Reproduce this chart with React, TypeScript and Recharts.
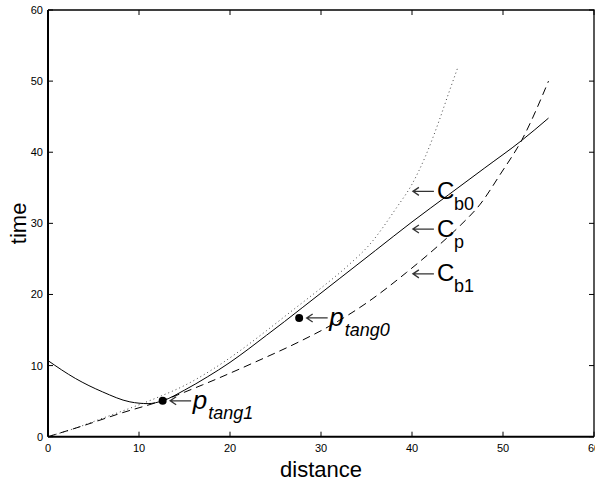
import React from 'react';
import { ComposedChart, Line, Scatter, XAxis, YAxis, Label } from 'recharts';

const xTicks = [0, 10, 20, 30, 40, 50, 60];
const yTicks = [0, 10, 20, 30, 40, 50, 60];
const X_MAX = 60;
const Y_MAX = 60;

// C_p (solid)
const cpX = [0, 3, 6, 9, 11, 12.6, 15, 17.5, 20, 22, 24, 26, 28, 32, 36, 40, 44, 48, 52, 55];
const cpY = [10.7, 8.2, 6.3, 4.9, 4.65, 5.05, 6.55, 8.4, 10.45, 12.3, 14.25, 16.2, 18.2, 22.2, 26.2, 30.2, 34.0, 37.8, 41.6, 44.8];

// C_b0 (dotted)
const cb0X = [0, 3, 6, 9, 12, 15, 18, 21, 24, 27, 30, 33, 35.4, 38.3, 40, 41.5, 43, 44, 45];
const cb0Y = [0, 1.2, 2.6, 4.0, 5.5, 7.2, 9.4, 12.0, 14.9, 17.9, 20.9, 24.1, 27.1, 32.2, 35.5, 39.5, 44.5, 48.2, 51.8];

// C_b1 (dashed)
const cb1X = [0, 4, 8, 12.6, 17, 22.6, 28, 31, 35, 39.4, 43.1, 45.3, 47.5, 49.7, 52.1, 55];
const cb1Y = [0, 1.6, 3.3, 5.1, 7.3, 10.4, 13.6, 15.6, 18.8, 23.1, 27.1, 29.7, 32.7, 36.9, 41.8, 50.0];

// tangent points
const tangX = [12.6, 27.6];
const tangY = [5.05, 16.7];
const tangSub = ['tang1', 'tang0'];

// curve name tags (arrow tip positions)
const tagX = [40.1, 40.1, 40.1];
const tagY = [34.5, 29.2, 22.9];
const tagSub = ['b0', 'p', 'b1'];

const zip = (xs: number[], ys: number[]) => xs.map((x, i) => ({ x, y: ys[i] }));

const cpData = zip(cpX, cpY);
const cb0Data = zip(cb0X, cb0Y);
const cb1Data = zip(cb1X, cb1Y);
const tangData = tangX.map((x, i) => ({ x, y: tangY[i], sub: tangSub[i] }));
const tagData = tagX.map((x, i) => ({ x, y: tagY[i], sub: tagSub[i] }));

// inward ticks on the top and right edges of the box
const topTickData = xTicks.map((t) => ({ x: t, y: Y_MAX }));
const rightTickData = yTicks.map((t) => ({ x: X_MAX, y: t }));

const FONT = '"Liberation Sans", Arial, Helvetica, sans-serif';
const MARGIN = { top: 10, right: 26, bottom: 0, left: 0 };

function Arrow({ x, y }: { x: number; y: number }) {
  return (
    <path
      d={`M${x + 21},${y} L${x},${y} M${x + 6},${y - 4} L${x},${y} L${x + 6},${y + 4}`}
      stroke="#333"
      strokeWidth={1.3}
      fill="none"
    />
  );
}

const BottomTick = (props: any) => {
  const { x, y, payload } = props;
  return (
    <g>
      <line x1={x} y1={y} x2={x} y2={y - 5} stroke="#000" strokeWidth={1} />
      <text x={x} y={y + 15} textAnchor="middle" fontSize={11} fontFamily={FONT} fill="#000">
        {payload.value}
      </text>
    </g>
  );
};

const LeftTick = (props: any) => {
  const { x, y, payload } = props;
  return (
    <g>
      <line x1={x} y1={y} x2={x + 5} y2={y} stroke="#000" strokeWidth={1} />
      <text x={x - 5} y={y + 4} textAnchor="end" fontSize={11} fontFamily={FONT} fill="#000">
        {payload.value}
      </text>
    </g>
  );
};

const TopTickShape = (props: any) => {
  const { cx, cy } = props;
  return <line x1={cx} y1={cy} x2={cx} y2={cy + 5} stroke="#000" strokeWidth={1} />;
};

const RightTickShape = (props: any) => {
  const { cx, cy } = props;
  return <line x1={cx} y1={cy} x2={cx - 5} y2={cy} stroke="#000" strokeWidth={1} />;
};

// top and right edges of the box, drawn from the x-axis viewBox
const FrameBox = (props: any) => {
  const vb = props && props.viewBox;
  if (!vb || vb.x == null || vb.width == null || vb.y == null) return null;
  const left = vb.x;
  const right = vb.x + vb.width;
  const bottom = vb.y;
  const top = MARGIN.top;
  return (
    <path
      d={`M${left},${top} L${right},${top} L${right},${bottom}`}
      stroke="#000"
      strokeWidth={1.3}
      fill="none"
    />
  );
};

const TangShape = (props: any) => {
  const { cx, cy, payload } = props;
  return (
    <g>
      <circle cx={cx} cy={cy} r={4} fill="#000" />
      <Arrow x={cx + 7.5} y={cy} />
      <text x={cx + 30} y={cy + 8} fontSize={26} fontStyle="italic" fontFamily={FONT} fill="#000">
        p
      </text>
      <text x={cx + 45.5} y={cy + 18.5} fontSize={18} fontStyle="italic" fontFamily={FONT} fill="#000">
        {payload.sub}
      </text>
    </g>
  );
};

const TagShape = (props: any) => {
  const { cx, cy, payload } = props;
  return (
    <g>
      <Arrow x={cx} y={cy} />
      <text x={cx + 24} y={cy + 7.5} fontSize={24} fontFamily={FONT} fill="#000">
        C
      </text>
      <text x={cx + 41} y={cy + 18.5} fontSize={18} fontFamily={FONT} fill="#000">
        {payload.sub}
      </text>
    </g>
  );
};

export default function App() {
  return (
    <div style={{ position: 'absolute', left: 0, top: 0, width: 595, height: 481, overflow: 'hidden', background: '#fff' }}>
      <ComposedChart width={620} height={481} margin={MARGIN}>
        <XAxis
          type="number"
          dataKey="x"
          domain={[0, X_MAX]}
          ticks={xTicks}
          interval={0}
          height={44.3}
          tickSize={0}
          tickMargin={0}
          axisLine={{ stroke: '#000', strokeWidth: 2 }}
          tick={BottomTick}
          label={{ value: 'distance', position: 'insideBottom', offset: 4.5, fontSize: 22, fontFamily: FONT, fill: '#000' }}
        >
          <Label content={FrameBox} />
        </XAxis>
        <YAxis
          type="number"
          dataKey="y"
          domain={[0, Y_MAX]}
          ticks={yTicks}
          interval={0}
          width={48}
          tickSize={0}
          tickMargin={0}
          axisLine={{ stroke: '#000', strokeWidth: 2 }}
          tick={LeftTick}
          label={{ value: 'time', angle: -90, position: 'insideLeft', offset: 18, fontSize: 22, fontFamily: FONT, fill: '#000', style: { textAnchor: 'middle' } }}
        />
        <Line data={cb0Data} dataKey="y" type="monotone" stroke="#444" strokeWidth={1} strokeDasharray="1 3" dot={false} isAnimationActive={false} />
        <Line data={cb1Data} dataKey="y" type="monotone" stroke="#000" strokeWidth={1} strokeDasharray="8 5" dot={false} isAnimationActive={false} />
        <Line data={cpData} dataKey="y" type="monotone" stroke="#000" strokeWidth={1} dot={false} isAnimationActive={false} />
        <Scatter data={topTickData} dataKey="y" shape={TopTickShape} isAnimationActive={false} />
        <Scatter data={rightTickData} dataKey="y" shape={RightTickShape} isAnimationActive={false} />
        <Scatter data={tangData} dataKey="y" shape={TangShape} isAnimationActive={false} />
        <Scatter data={tagData} dataKey="y" shape={TagShape} isAnimationActive={false} />
      </ComposedChart>
    </div>
  );
}
